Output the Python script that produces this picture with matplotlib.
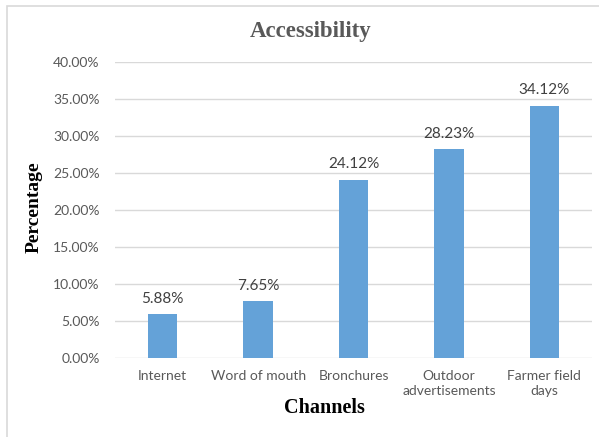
import matplotlib.pyplot as plt
from matplotlib.patches import Rectangle
from matplotlib.ticker import FuncFormatter

channels = ["Internet", "Word of mouth", "Bronchures", "Outdoor\nadvertisements", "Farmer field\ndays"]
percent = [5.88, 7.65, 24.12, 28.23, 34.12]
labels = ["5.88%", "7.65%", "24.12%", "28.23%", "34.12%"]
y_ticks = [0, 5, 10, 15, 20, 25, 30, 35, 40]

W, H = 599, 437
fig = plt.figure(figsize=(W / 100, H / 100), dpi=100)

# outer chart border
fig.patches.append(Rectangle((7 / W, -0.01), 1.0, 1 - 6 / H + 0.01, transform=fig.transFigure,
                             fill=False, edgecolor="#d9d9d9", linewidth=1.2))

ax = fig.add_axes([115 / W, 1 - 358 / H, 477 / W, 296 / H])
x = range(len(channels))
ax.bar(x, percent, width=0.31, color="#64a2d8", zorder=3)
for i, (v, t) in enumerate(zip(percent, labels)):
    ax.text(i, v + 1.1, t, ha="center", va="bottom", fontsize=11, color="#404040", family="Lato")

ax.set_xlim(-0.5, len(channels) - 0.5)
ax.set_ylim(0, 40)
ax.set_yticks(y_ticks)
ax.yaxis.set_major_formatter(FuncFormatter(lambda v, p: f"{v:.2f}%"))
ax.set_xticks(list(x))
ax.set_xticklabels(channels, fontsize=10, color="#595959", family="Lato", linespacing=1.25)
for lab in ax.get_yticklabels():
    lab.set_fontsize(10)
    lab.set_color("#595959")
    lab.set_family("Lato")
ax.tick_params(length=0, pad=11)
ax.tick_params(axis="x", pad=9)
ax.grid(axis="y", color="#d9d9d9", linewidth=1, zorder=0)
for s in ax.spines.values():
    s.set_visible(False)

fig.text(311 / W, 1 - 32 / H, "Accessibility", ha="center", va="center",
         fontsize=16.5, fontweight="bold", color="#595959", family="Liberation Serif")
fig.text(324 / W, 1 - 408 / H, "Channels", ha="center", va="center",
         fontsize=14.5, fontweight="bold", color="black", family="Liberation Serif")
fig.text(34 / W, 1 - 207 / H, "Percentage", ha="center", va="center", rotation=90,
         fontsize=14, fontweight="bold", color="black", family="Liberation Serif")

fig.savefig("out.png", dpi=100)
